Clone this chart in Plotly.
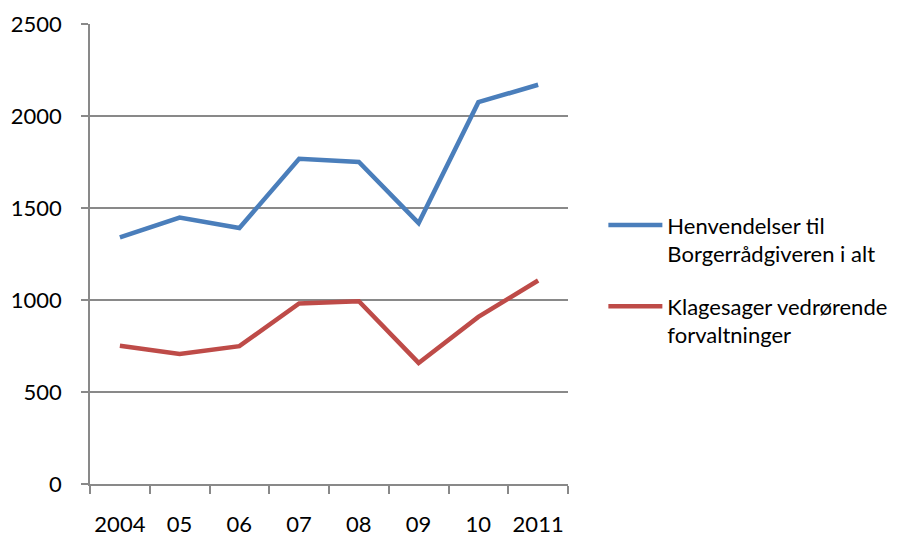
import plotly.graph_objects as go

years = ['2004', '05', '06', '07', '08', '09', '10', '2011']
henvendelser = [1340, 1448, 1391, 1768, 1750, 1418, 2075, 2170]
klagesager = [751, 707, 749, 981, 993, 658, 908, 1106]

FONT = 'Lato'
GRAY = '#898989'

fig = go.Figure()

fig.add_trace(go.Scatter(
    x=years, y=henvendelser, mode='lines',
    name='Henvendelser til<br>Borgerrådgiveren i alt',
    legendgroup='a',
    line=dict(color='#4A7EBB', width=4.5),
))
fig.add_trace(go.Scatter(
    x=years, y=klagesager, mode='lines',
    name='Klagesager vedrørende<br>forvaltninger',
    legendgroup='b',
    line=dict(color='#BE4B48', width=4.5),
))

# page body has an 8px margin, so the figure is a bit smaller than the window
fig.update_layout(
    width=909, height=528,
    margin=dict(l=82, r=349, t=16, b=52),
    paper_bgcolor='white', plot_bgcolor='white',
    font=dict(family=FONT, size=22, color='black'),
    showlegend=True,
    legend=dict(
        x=1.074, y=0.608, xanchor='left', yanchor='top',
        font=dict(size=22), itemwidth=54, valign='top',
        traceorder='grouped', tracegroupgap=21,
        bgcolor='rgba(0,0,0,0)',
    ),
    xaxis=dict(
        type='category', range=[-0.5, 7.5], tickson='boundaries',
        ticks='outside', ticklen=8, tickcolor=GRAY, tickwidth=1.5,
        showline=True, linecolor=GRAY, linewidth=1.5,
        showgrid=False, tickangle=0, ticklabelstandoff=20,
        automargin=False, fixedrange=True,
    ),
    yaxis=dict(
        range=[0, 2500], dtick=500, tick0=0,
        ticks='outside', ticklen=7, tickcolor=GRAY, tickwidth=1.5,
        showline=True, linecolor=GRAY, linewidth=1.5,
        showgrid=True, gridcolor=GRAY, gridwidth=1.5,
        zeroline=False, ticklabelstandoff=15,
        automargin=False, fixedrange=True,
    ),
)

fig.write_html('out.html')
